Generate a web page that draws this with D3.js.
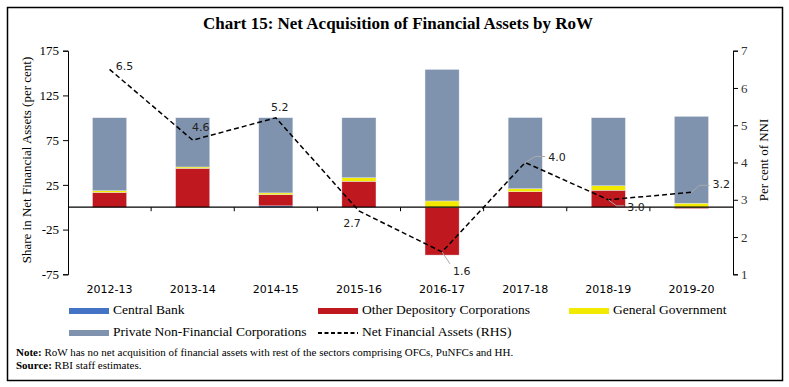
<!DOCTYPE html>
<html>
<head>
<meta charset="utf-8">
<script src="https://cdn.jsdelivr.net/npm/d3@7"></script>
<style>
  body { margin: 0; background: #fff; }
  svg text { font-family: "Liberation Serif", serif; }
  .sans { font-family: "DejaVu Sans", sans-serif !important; }
</style>
</head>
<body>
<div id="chart"></div>
<script>
var years = ["2012-13", "2013-14", "2014-15", "2015-16", "2016-17", "2017-18", "2018-19", "2019-20"];
var centralBank = [0, 0, 1.5, 0, 0, 0, 0, 0];
var otherDep = [16.5, 43.5, 12.5, 29, -53.5, 17.3, 19, -1.5];
var generalGov = [2, 1.5, 2, 4, 7, 3.4, 5, 4.5];
var privateNFC = [81.5, 55, 84, 67, 147, 79.5, 76, 97];
var netFA = [6.5, 4.6, 5.2, 2.7, 1.6, 4.0, 3.0, 3.2];
var leftTicks = [175, 125, 75, 25, -25, -75];
var rightTicks = [1, 2, 3, 4, 5, 6, 7];

var seriesNames = ["Central Bank", "Other Depository Corporations", "General Government", "Private Non-Financial Corporations"];
var colors = ["#4472C4", "#C0181F", "#F2EA00", "#7F93AE"];

var W = 789, H = 387;

var svg = d3.select("#chart").append("svg")
    .attr("width", W).attr("height", H);

// outer frame
svg.append("rect")
    .attr("x", 7.5).attr("y", 7.5)
    .attr("width", 775).attr("height", 373)
    .attr("fill", "none").attr("stroke", "#000").attr("stroke-width", 1.5);

svg.append("text")
    .attr("x", 398).attr("y", 29)
    .attr("text-anchor", "middle")
    .style("font-size", "17px").style("font-weight", "bold")
    .text("Chart 15: Net Acquisition of Financial Assets by RoW");

var x = d3.scaleBand()
    .domain(years)
    .range([68, 733])
    .paddingInner(0.59).paddingOuter(0.295);
var yL = d3.scaleLinear().domain([-75, 175]).range([274.3, 50.7]);
var yR = d3.scaleLinear().domain([1, 7]).range([274.3, 50.7]);

// stacked bars, positives up and negatives down
var rows = years.map(function (d, i) {
    return [centralBank[i], otherDep[i], generalGov[i], privateNFC[i]];
});
rows.forEach(function (vals, i) {
    var pos = 0, neg = 0;
    vals.forEach(function (v, k) {
        var y0, y1;
        if (v >= 0) { y0 = pos; y1 = pos + v; pos = y1; }
        else { y0 = neg + v; y1 = neg; neg = y0; }
        if (v === 0) return;
        svg.append("rect")
            .attr("x", x(years[i]))
            .attr("width", x.bandwidth())
            .attr("y", yL(y1))
            .attr("height", yL(y0) - yL(y1))
            .attr("fill", colors[k])
            .attr("stroke", "#e8ecf2").attr("stroke-width", 0.4);
    });
});

// left axis
var gL = svg.append("g")
    .attr("transform", "translate(68,0)")
    .call(d3.axisLeft(yL).tickValues(leftTicks).tickFormat(function (d) { return String(d); }).tickSize(5).tickPadding(4));
gL.select(".domain").attr("stroke", "#000");
gL.selectAll("text").style("font-family", "Liberation Serif, serif").style("font-size", "13px").attr("fill", "#000");

// right axis
var gR = svg.append("g")
    .attr("transform", "translate(733,0)")
    .call(d3.axisRight(yR).tickValues(rightTicks).tickFormat(function (d) { return String(d); }).tickSize(5).tickPadding(3));
gR.selectAll("text").style("font-family", "Liberation Serif, serif").style("font-size", "13px").attr("fill", "#333");

// zero line with category ticks
svg.append("line")
    .attr("x1", 68).attr("x2", 733)
    .attr("y1", yL(0)).attr("y2", yL(0))
    .attr("stroke", "#000").attr("stroke-width", 1.2);
years.slice(1).forEach(function (d) {
    var xx = x(d) - x.step() * x.paddingInner() / 2;
    svg.append("line")
        .attr("x1", xx).attr("x2", xx)
        .attr("y1", yL(0)).attr("y2", yL(0) + 4)
        .attr("stroke", "#000");
});

// category labels at bottom
svg.selectAll("text.cat")
    .data(years).enter().append("text")
    .attr("class", "cat sans")
    .attr("x", function (d) { return x(d) + x.bandwidth() / 2; })
    .attr("y", 293)
    .attr("text-anchor", "middle")
    .style("font-size", "11px")
    .text(function (d) { return d; });

// axis titles
svg.append("text")
    .attr("transform", "translate(31,160) rotate(-90)")
    .attr("text-anchor", "middle")
    .style("font-size", "13px")
    .text("Share in Net Financial Assets (per cent)");
svg.append("text")
    .attr("transform", "translate(768,160) rotate(-90)")
    .attr("text-anchor", "middle")
    .style("font-size", "13px")
    .text("Per cent of NNI");

// net financial assets line
var cx = function (i) { return x(years[i]) + x.bandwidth() / 2; };
var line = d3.line()
    .x(function (d, i) { return cx(i); })
    .y(function (d) { return yR(d); });
svg.append("path")
    .datum(netFA)
    .attr("d", line)
    .attr("fill", "none")
    .attr("stroke", "#000")
    .attr("stroke-width", 1.5)
    .attr("stroke-dasharray", "5,3");

// data labels: offsets of text, plus optional leader line
var labelPos = [
    { dx: 15, dy: -2 },
    { dx: 8, dy: -12 },
    { dx: 4, dy: -10 },
    { dx: -7, dy: 13 },
    { dx: 11, dy: 20, lead: [[0, 0], [8, 12]] },
    { dx: 23, dy: -5, lead: [[0, 0], [10, -6], [20, -6]] },
    { dx: 19, dy: 8, lead: [[0, 0], [8, 6], [16, 6]] },
    { dx: 21, dy: -7, lead: [[0, 0], [8, -7], [18, -7]] }
];
netFA.forEach(function (v, i) {
    var px = cx(i), py = yR(v), lp = labelPos[i];
    if (lp.lead) {
        svg.append("polyline")
            .attr("points", lp.lead.map(function (p) { return (px + p[0]) + "," + (py + p[1]); }).join(" "))
            .attr("fill", "none").attr("stroke", "#aaa").attr("stroke-width", 1);
    }
    svg.append("text")
        .attr("class", "sans")
        .attr("x", px + lp.dx)
        .attr("y", py + lp.dy)
        .attr("text-anchor", lp.lead ? "start" : "middle")
        .attr("dominant-baseline", "middle")
        .style("font-size", "11px")
        .attr("fill", "#222")
        .text(d3.format(".1f")(v));
});

// legend
var legendItems = [
    { name: seriesNames[0], color: colors[0], x: 69, y: 311 },
    { name: seriesNames[1], color: colors[1], x: 318, y: 311 },
    { name: seriesNames[2], color: colors[2], x: 569, y: 311 },
    { name: seriesNames[3], color: colors[3], x: 69, y: 333 },
    { name: "Net Financial Assets (RHS)", dash: true, x: 318, y: 333 }
];
legendItems.forEach(function (d) {
    if (d.dash) {
        svg.append("line")
            .attr("x1", d.x).attr("x2", d.x + 40)
            .attr("y1", d.y).attr("y2", d.y)
            .attr("stroke", "#000").attr("stroke-width", 2)
            .attr("stroke-dasharray", "4,2.5");
    } else {
        svg.append("rect")
            .attr("x", d.x).attr("y", d.y - 3)
            .attr("width", 40).attr("height", 6)
            .attr("fill", d.color);
    }
    svg.append("text")
        .attr("x", d.x + 44).attr("y", d.y)
        .attr("dominant-baseline", "middle")
        .style("font-size", "13.5px")
        .text(d.name);
});

// notes
var note = svg.append("text").attr("x", 16).attr("y", 356).style("font-size", "11px");
note.append("tspan").style("font-weight", "bold").text("Note: ");
note.append("tspan").text("RoW has no net acquisition of financial assets with rest of the sectors comprising OFCs, PuNFCs and HH.");
var src = svg.append("text").attr("x", 16).attr("y", 369).style("font-size", "11px");
src.append("tspan").style("font-weight", "bold").text("Source: ");
src.append("tspan").text("RBI staff estimates.");
</script>
</body>
</html>
